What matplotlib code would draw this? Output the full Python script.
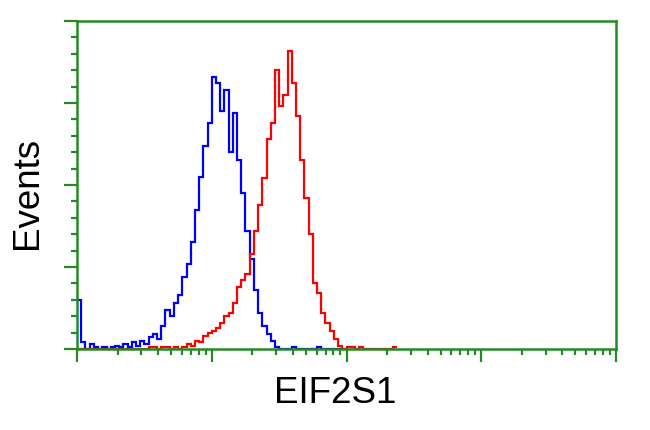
import numpy as np
import matplotlib
matplotlib.use("Agg")
import matplotlib.pyplot as plt
from matplotlib.ticker import LogLocator, MultipleLocator, NullFormatter

# histogram channels: 32 per decade over 4 decades (only the first 76 are non-empty)
n_channels = 128
decades = (0, 4)

# counts per channel
isotype_counts = [30, 4, 0, 3, 1, 0, 1, 0, 1, 2, 1, 3, 1, 4, 2, 5,
                  3, 7, 9, 6, 14, 24, 20, 28, 33, 44, 52, 65, 85, 105, 124, 138,
                  166, 162, 145, 158, 120, 144, 115, 95, 72, 55, 36, 22, 14, 9, 5, 1,
                  0, 0, 0, 1, 0, 0, 0, 0, 0, 1, 0, 0, 0, 0, 0, 0]
eif2s1_counts = [0, 0, 0, 0, 0, 0, 0, 0, 0, 0, 0, 0, 0, 0, 0, 0,
                 0, 1, 1, 0, 1, 1, 0, 1, 0, 1, 3, 2, 5, 4, 8, 10,
                 11, 13, 16, 20, 22, 28, 38, 42, 46, 58, 72, 88, 104, 128, 138, 170,
                 148, 155, 182, 162, 142, 115, 92, 70, 40, 34, 22, 16, 11, 6, 2, 0,
                 1, 1, 0, 1, 0, 0, 0, 0, 0, 0, 0, 1]

x_label = "EIF2S1"
y_label = "Events"
axis_green = "#258a25"

edges = np.logspace(decades[0], decades[1], n_channels + 1)

fig = plt.figure(figsize=(6.5, 4.31), dpi=100)
ax = fig.add_axes([0.1185, 0.188, 0.8292, 0.761])

ax.stairs(isotype_counts, edges[:len(isotype_counts) + 1], color="#0000ff", lw=1.6, baseline=None)
ax.stairs(eif2s1_counts, edges[:len(eif2s1_counts) + 1], color="#ff0000", lw=1.6, baseline=None)

ax.set_xscale("log")
ax.set_xlim(edges[0], edges[-1])
ax.set_ylim(0, 200)

ax.xaxis.set_major_locator(LogLocator(base=10, numticks=10))
ax.xaxis.set_minor_locator(LogLocator(base=10, subs=np.arange(2, 10), numticks=20))
ax.xaxis.set_major_formatter(NullFormatter())
ax.xaxis.set_minor_formatter(NullFormatter())
ax.yaxis.set_major_locator(MultipleLocator(50))
ax.yaxis.set_minor_locator(MultipleLocator(10))
ax.yaxis.set_major_formatter(NullFormatter())

ax.tick_params(which="both", direction="out", color=axis_green, width=1.6,
               top=False, right=False)
ax.tick_params(which="major", length=9.5)
ax.tick_params(which="minor", length=4)

for s in ax.spines.values():
    s.set_color(axis_green)
    s.set_linewidth(1.8)
    s.set_zorder(1)

fig.text(28 / 650, 1 - 193 / 431, y_label, rotation=90, ha="center", va="center",
         fontsize=26.5, family="Liberation Sans")
fig.text(335 / 650, 1 - 394 / 431, x_label, ha="center", va="center",
         fontsize=26.5, family="Liberation Sans")

fig.savefig("out.png", dpi=100)
